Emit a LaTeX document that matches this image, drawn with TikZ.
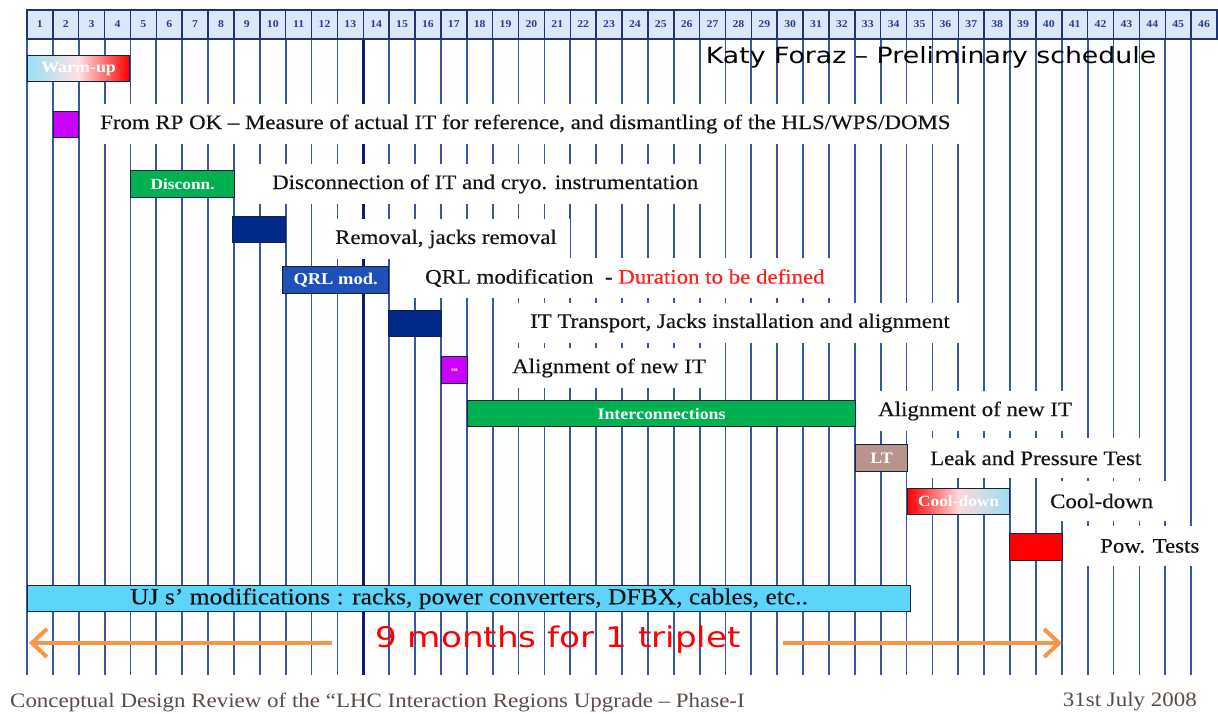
\documentclass[tikz,border=0pt]{standalone}
\usepackage{fontspec}
\setmainfont{Liberation Serif}[FakeStretch=1.12]
\newfontfamily\lblfont{Liberation Serif}[FakeStretch=1.11,FakeBold=0.35]
\newfontfamily\vsans{DejaVu Sans}[FakeStretch=1.2]
\usetikzlibrary{arrows.meta}
\definecolor{gridblue}{HTML}{3557A6}
\definecolor{gridthick}{HTML}{0B1C74}
\definecolor{hdrfill}{HTML}{DCE6F9}
\definecolor{hdrline}{HTML}{1E3570}
\definecolor{hdrtext}{HTML}{26408A}
\definecolor{wlblue}{HTML}{9ADFF6}
\definecolor{wred}{HTML}{FF0000}
\definecolor{purp}{HTML}{CC00FF}
\definecolor{grn}{HTML}{00B050}
\definecolor{navy}{HTML}{002A8A}
\definecolor{qrlblue}{HTML}{1F4FB8}
\definecolor{ltbrown}{HTML}{B8948A}
\definecolor{ujblue}{HTML}{5DD5FB}
\definecolor{arrorange}{HTML}{F79646}
\definecolor{footgray}{HTML}{5B4C46}
\definecolor{barline}{HTML}{14213F}
\definecolor{durred}{HTML}{FF2020}
\definecolor{lbltext}{HTML}{141414}
\begin{document}
\begin{tikzpicture}[x=1pt,y=-1pt,
  gridline/.style={draw=gridblue,line width=1.8pt},
  gridthickline/.style={draw=gridthick,line width=2.8pt},
  hcell/.style={draw=hdrline,line width=1.5pt,fill=hdrfill,minimum width=25.87pt,minimum height=29pt,inner sep=0pt,font=\fontsize{10.5}{10.5}\selectfont\bfseries,text=hdrtext},
  bar/.style={draw=barline,line width=1.2pt,anchor=north west,inner sep=0pt,text=white,font=\fontsize{16}{16}\selectfont\bfseries},
  lbl/.style={fill=white,anchor=west,inner xsep=13pt,inner ysep=0pt,minimum height=40pt,font=\lblfont\fontsize{20.6}{22}\selectfont,text=lbltext},
  orangearrow/.style={draw=arrorange,line width=4pt,-{Straight Barb[length=15pt,width=28pt,line width=4pt]}}
]
\useasboundingbox (0,0) rectangle (1218,713);
\fill[white] (0,0) rectangle (1218,713);
% grid lines
\foreach \k in {0,...,45}{
  \draw[gridline] ({27+\k*25.87},39) -- ({27+\k*25.87},675);
}
\draw[gridthickline] ({27+13*25.87},39) -- ({27+13*25.87},675);
% header
\foreach \i in {1,...,46}{
  \node[hcell] (h\i) at ({27+(\i-0.5)*25.87},24.5) {\i};
}
% title
\node[font=\vsans\fontsize{22.3}{22.3}\selectfont,inner sep=0pt] (title) at (931,57) {Katy Foraz – Preliminary schedule};
% labels
\node[lbl] (t1) at (87,124) {From RP OK – Measure of actual IT for reference, and dismantling of the HLS/WPS/DOMS\hspace{12pt}};
\node[lbl] (t2) at (259,184) {Disconnection of IT and cryo. instrumentation};
\node[lbl] (t3) at (322,239) {Removal, jacks removal};
\node[lbl] (t4) at (412,278) {QRL modification\ \ - \textcolor{durred}{Duration to be defined}};
\node[lbl] (t5) at (517,323) {IT Transport, Jacks installation and alignment};
\node[lbl] (t6) at (499,368) {Alignment of new IT};
\node[lbl] (t7) at (865,411) {Alignment of new IT};
\node[lbl] (t8) at (917,458) {Leak and Pressure Test};
\node[lbl] (t9) at (1037,501) {Cool-down};
\node[lbl] (t10) at (1087,546) {Pow. Tests};
% bars
\node[bar,left color=wlblue,right color=wred,middle color=red!12,minimum width=102pt,minimum height=26pt] (warm) at (27,55) {Warm-up};
\node[bar,fill=purp,minimum width=25pt,minimum height=26pt] (p1) at (53,111) {};
\node[bar,fill=grn,minimum width=104pt,minimum height=27pt,font=\fontsize{15.5}{15.5}\selectfont\bfseries] (disc) at (130,170) {Disconn.};
\node[bar,fill=navy,minimum width=53pt,minimum height=26pt] (n1) at (232,216) {};
\node[bar,fill=qrlblue,minimum width=106pt,minimum height=27pt,font=\fontsize{16.5}{16.5}\selectfont\bfseries] (qrl) at (282,266) {QRL mod.};
\node[bar,fill=navy,minimum width=53pt,minimum height=26pt] (n2) at (388,310) {};
\node[bar,fill=purp,minimum width=26pt,minimum height=27pt,font=\fontsize{6}{6}\selectfont\bfseries] (p2) at (441,356) {su};
\node[bar,fill=grn,minimum width=388pt,minimum height=26pt] (inter) at (467,400) {Interconnections};
\node[bar,fill=ltbrown,minimum width=52pt,minimum height=27pt] (lt) at (855,444) {LT};
\node[bar,left color=wred,right color=wlblue,middle color=red!15,minimum width=102pt,minimum height=26pt,font=\fontsize{15.5}{15.5}\selectfont\bfseries] (cool) at (907,488) {Cool-down};
\node[bar,fill=wred,minimum width=53pt,minimum height=27pt] (rb) at (1009,533) {};
\node[bar,fill=ujblue,minimum width=883pt,minimum height=26pt,text=lbltext,font=\lblfont\fontsize{23}{23}\selectfont] (uj) at (27,585) {UJ s’ modifications : racks, power converters, DFBX, cables, etc..};
% months
\node[font=\vsans\fontsize{28.5}{28.5}\selectfont,text=red,inner sep=0pt] (months) at (558,640) {9 months for 1 triplet};
\coordinate (al1) at (332,643);
\coordinate (al2) at (29,643);
\coordinate (ar1) at (783,643);
\coordinate (ar2) at (1062,643);
\draw[orangearrow] (al1) -- (al2);
\draw[orangearrow] (ar1) -- (ar2);
% footer
\node[anchor=west,inner sep=0pt,text=footgray,font=\fontsize{20.5}{20.5}\selectfont] (foot) at (10,702) {Conceptual Design Review of the “LHC Interaction Regions Upgrade – Phase-I};
\node[anchor=east,inner sep=0pt,text=footgray,font=\fontsize{20.5}{20.5}\selectfont] (date) at (1197,702) {31st July 2008};
\end{tikzpicture}
\end{document}
